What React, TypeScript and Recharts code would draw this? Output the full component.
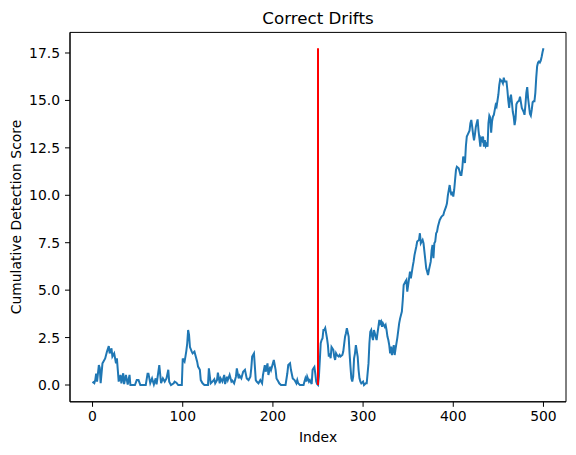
import React from "react";
import {
  LineChart,
  Line,
  XAxis,
  YAxis,
  ReferenceLine,
  ReferenceArea,
  Label,
} from "recharts";

// [index, cumulative score], before the drift point
const preDrift: [number, number][] = [
  [0, 0.1], [1, 0.15], [2, 0.1], [3, 0.26], [4, 0.6], [5, 0.18], [7, 1.05], [8, 0.9],
  [9, 0.1], [11, 1.14], [12, 1.23], [14, 1.4], [16, 1.76], [18, 2.05], [19, 1.67],
  [21, 1.93], [22, 1.5], [24, 1.67], [26, 1.14], [27, 1.4], [28, 0.8], [29, 0.18],
  [31, 0.53], [32, 0.09], [34, 0.62], [35, 0.05], [37, 0.53], [39, 0.03], [41, 0.53],
  [42, 0], [44, 0], [47, 0], [49, 0.26], [51, 0.26], [53, 0], [55, 0], [57, 0], [59, 0],
  [61, 0.6], [62, 0.6], [64, 0.1], [66, 0.35], [68, 0.03], [70, 0.35], [71, 0.03],
  [74, 1.05], [76, 0.1], [78, 0.35], [80, 0.18], [82, 0.35], [84, 0.8], [85, 0.18],
  [87, 0], [90, 0.09], [91, 0.18], [93, 0.12], [95, 0], [97, 0], [99, 0], [100, 1.4],
  [101, 1.3], [102, 1.23], [103, 1.5], [104, 1.8], [105, 2.2], [106, 2.9], [107, 2.64],
  [108, 2.0], [110, 1.76], [111, 1.67], [113, 1.76], [114, 1.58], [116, 1.23],
  [117, 0.97], [119, 0.8], [120, 0.26], [122, 0.09], [124, 0], [126, 0], [128, 0],
  [129, 0.88], [131, 0.09], [133, 0.18], [135, 0.3], [136, 0.09], [138, 0.26],
  [139, 0.65], [141, 0.09], [142, 0.35], [144, 0.18], [146, 0.53], [147, 0.05],
  [149, 0.44], [150, 0.26], [152, 0.53], [154, 0.18], [155, 0.23], [157, 0.09],
  [159, 0.44], [160, 0.88], [162, 0.35], [163, 0.5], [165, 0.35], [167, 0.7],
  [169, 0.8], [171, 0.35], [173, 0.26], [175, 0.44], [176, 0.88], [177, 1.5],
  [179, 1.67], [180, 0.97], [181, 0.26], [182, 0.18], [184, 0.09], [186, 0.26],
  [188, 0.09], [189, 0.53], [191, 1.05], [192, 0.7], [194, 1.14], [195, 0.53],
  [197, 0.97], [198, 0.8], [200, 1.14], [201, 1.32], [203, 0.8], [204, 0.35],
  [206, 0.18], [207, 0.09], [209, 0], [212, 0], [214, 0], [216, 0.62], [217, 1.05],
  [219, 1.14], [220, 0.8], [222, 0.35], [224, 0.26], [226, 0.09], [227, 0.26],
  [228, 0.09], [230, 0], [232, 0], [234, 0], [235, 0.18], [236, 0.35], [237, 0.18],
  [238, 0.44], [240, 0.18], [241, 0.26], [243, 0.05], [244, 0.8], [245, 0.88],
  [246, 0.95], [247, 0.6], [248, 0.18], [249, 0.05],
];

// after the drift point
const postDrift: [number, number][] = [
  [250, 0], [251, 0.44], [252, 1.3], [253, 2.2], [254, 2.37], [255, 2.46], [256, 2.9],
  [257, 2.9], [258, 3.0], [259, 2.73], [260, 2.46], [261, 2.1], [262, 1.5], [263, 1.67],
  [264, 1.41], [265, 2.0], [267, 1.85], [268, 1.5], [269, 1.32], [270, 1.67],
  [271, 1.58], [273, 1.5], [274, 1.58], [275, 1.5], [277, 1.58], [278, 1.76],
  [280, 2.55], [281, 2.73], [282, 3.0], [284, 2.55], [285, 1.67], [286, 0.97],
  [287, 0.35], [288, 0.18], [289, 0.44], [290, 1.41], [291, 1.67], [292, 2.1],
  [294, 1.5], [295, 0.79], [296, 0.35], [297, 0.18], [298, 0.09], [300, 0.18], [301, 0],
  [303, 0.09], [304, 0.09], [306, 1.14], [307, 2.2], [308, 2.81], [309, 2.9],
  [310, 2.55], [311, 2.37], [312, 2.9], [314, 2.55], [315, 2.37], [316, 2.73],
  [317, 3.07], [318, 3.43], [319, 3.25], [320, 3.34], [321, 3.07], [322, 3.25],
  [324, 3.07], [325, 3.16], [326, 2.9], [327, 2.55], [328, 2.37], [329, 2.1],
  [330, 1.67], [331, 2.02], [332, 1.58], [334, 2.1], [335, 1.58], [336, 1.9],
  [338, 2.5], [340, 3.25], [341, 3.5], [343, 3.87], [344, 4.48], [345, 5.27],
  [347, 5.45], [348, 5.53], [349, 4.92], [351, 5.62], [352, 5.98], [353, 5.62],
  [355, 6.24], [356, 6.5], [357, 6.85], [359, 7.3], [360, 7.56], [362, 7.65], [363, 8.0],
  [364, 7.47], [366, 7.65], [367, 7.47], [368, 7.03], [369, 6.59], [370, 6.15],
  [371, 5.98], [372, 5.8], [373, 6.06], [375, 6.5], [376, 7.1], [377, 7.38], [378, 6.68],
  [379, 7.47], [380, 7.56], [381, 8.0], [382, 8.08], [383, 8.35], [385, 8.7],
  [386, 8.79], [387, 8.88], [389, 8.96], [390, 9.14], [392, 9.4], [393, 9.58],
  [394, 10.0], [396, 10.54], [397, 10.19], [398, 10.0], [399, 10.19], [400, 9.93],
  [401, 10.28], [402, 10.81], [403, 11.33], [404, 11.5], [406, 11.42], [407, 11.25],
  [408, 11.07], [409, 11.07], [410, 11.42], [411, 12.04], [412, 11.9], [413, 11.7],
  [414, 12.6], [415, 13.1], [416, 13.2], [418, 13.4], [419, 13.8], [420, 13.97],
  [421, 13.6], [422, 13.2], [423, 12.9], [424, 13.2], [425, 13.6], [427, 14.0],
  [428, 13.4], [429, 13.0], [430, 12.56], [431, 13.0], [432, 12.9], [433, 13.1],
  [434, 12.56], [435, 12.9], [436, 12.6], [437, 12.7], [438, 12.56], [439, 13.8],
  [440, 14.2], [441, 14.1], [442, 13.3], [443, 13.9], [444, 14.15], [445, 14.24],
  [446, 14.5], [447, 14.76], [448, 14.67], [450, 15.3], [451, 15.8], [452, 16.1],
  [454, 16.0], [455, 15.9], [456, 16.2], [457, 16.0], [459, 16.0], [460, 15.55],
  [461, 15.0], [462, 14.6], [463, 15.1], [464, 15.3], [465, 14.9], [466, 14.4],
  [467, 14.15], [468, 13.7], [469, 14.0], [470, 14.8], [471, 14.9], [472, 14.95],
  [473, 15.0], [474, 15.2], [476, 14.6], [477, 14.5], [478, 14.4], [479, 14.24],
  [480, 14.76], [481, 15.4], [482, 15.7], [483, 15.1], [484, 14.7], [485, 14.3],
  [486, 14.2], [487, 14.5], [488, 14.9], [489, 14.95], [490, 14.95], [491, 15.4],
  [492, 16.2], [493, 16.8], [494, 17.0], [495, 17.05], [496, 17.0], [497, 17.1],
  [498, 17.3], [499, 17.55], [500, 17.75],
];

const driftIndex = 250;
const xTicks = [0, 100, 200, 300, 400, 500];
const yTicks = [0, 2.5, 5, 7.5, 10, 12.5, 15, 17.5];

const data = [...preDrift, ...postDrift].map(([x, y]) => ({ x, y }));
const maxScore = Math.max(...data.map((d) => d.y));

const FONT = "'DejaVu Sans', sans-serif";
const tickStyle = { fontSize: 13.9, fill: "#000", fontFamily: FONT };

export default function App() {
  return (
    <div
      style={{
        position: "absolute",
        left: 0,
        top: 0,
        width: 576,
        height: 455,
        background: "#fff",
      }}
    >
      <LineChart
        width={576}
        height={455}
        data={data}
        margin={{ top: 32.4, right: 10, left: 0, bottom: 0 }}
      >
        <ReferenceArea
          x1={-25}
          x2={525}
          y1={-0.885}
          y2={18.585}
          fill="none"
          stroke="#000"
          strokeWidth={1}
        />
        <XAxis
          dataKey="x"
          type="number"
          domain={[-25, 525]}
          ticks={xTicks}
          allowDataOverflow
          height={53.2}
          tickSize={5}
          tickMargin={4}
          tick={tickStyle}
          stroke="#000"
        >
          <Label
            content={() => (
              <g>
                <text
                  x={318}
                  y={442}
                  textAnchor="middle"
                  fontSize={13.9}
                  fontFamily={FONT}
                  fill="#000"
                >
                  Index
                </text>
                <text
                  x={318}
                  y={24}
                  textAnchor="middle"
                  fontSize={16.7}
                  fontFamily={FONT}
                  fill="#000"
                >
                  Correct Drifts
                </text>
              </g>
            )}
          />
        </XAxis>
        <YAxis
          type="number"
          domain={[-0.885, 18.585]}
          ticks={yTicks}
          allowDataOverflow
          width={70}
          tickSize={5}
          tickMargin={5}
          tick={tickStyle}
          stroke="#000"
          tickFormatter={(v: number) => v.toFixed(1)}
        >
          <Label
            content={() => (
              <text
                x={21}
                y={217}
                transform="rotate(-90 21 217)"
                textAnchor="middle"
                fontSize={13.9}
                fontFamily={FONT}
                fill="#000"
              >
                Cumulative Detection Score
              </text>
            )}
          />
        </YAxis>
        <Line
          dataKey="y"
          type="linear"
          stroke="#1f77b4"
          strokeWidth={2}
          dot={false}
          isAnimationActive={false}
        />
        <ReferenceLine
          segment={[
            { x: driftIndex, y: 0 },
            { x: driftIndex, y: maxScore },
          ]}
          stroke="#ff0000"
          strokeWidth={2}
        />
      </LineChart>
    </div>
  );
}
